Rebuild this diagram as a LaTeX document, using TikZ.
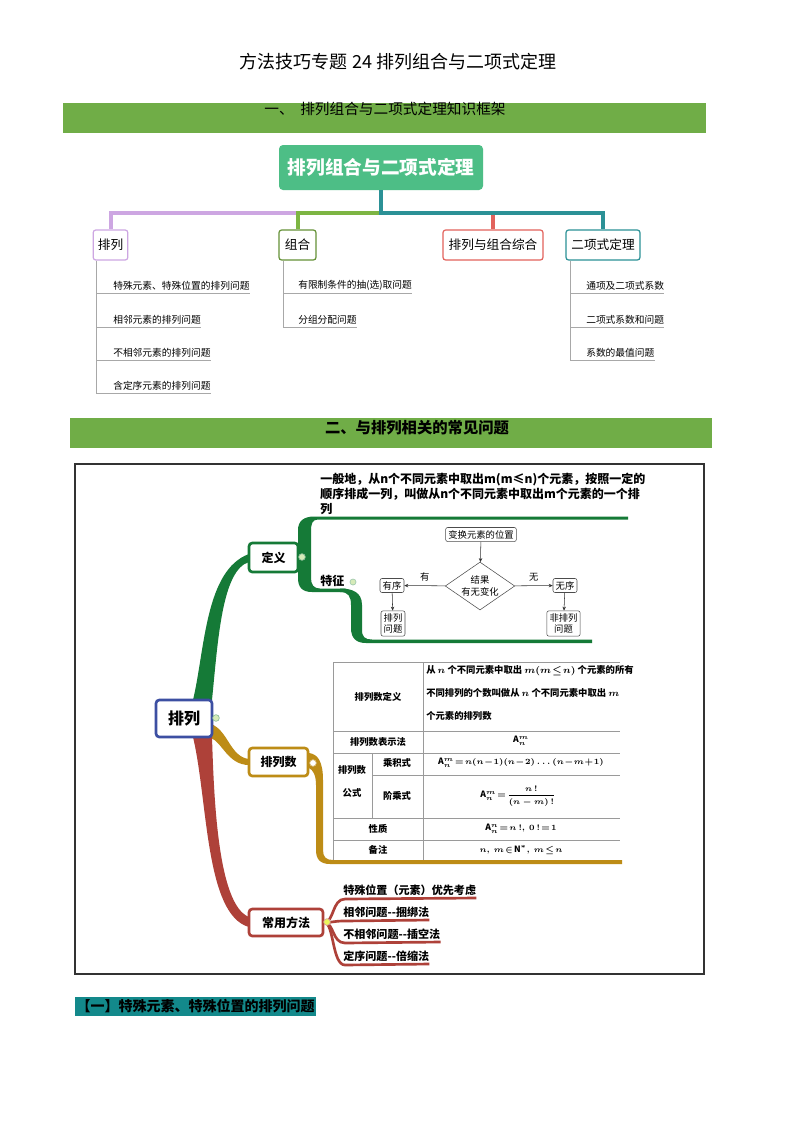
\documentclass[tikz,border=0pt]{standalone}
\usepackage{fontspec}
\setmainfont{Noto Sans CJK SC}
\usetikzlibrary{arrows.meta,positioning,calc,shapes.geometric}
\usepackage{amsmath}
\usepackage{xcolor}
\definecolor{Banner}{HTML}{70AD47}
\definecolor{RootGreen}{HTML}{4DBE86}
\definecolor{Lilac}{HTML}{CDA6E2}
\definecolor{Olive}{HTML}{7DB543}
\definecolor{Coral}{HTML}{E2625C}
\definecolor{Teal}{HTML}{2B9196}
\definecolor{Twig}{HTML}{A8A8A8}
\definecolor{Forest}{HTML}{157A37}
\definecolor{Ochre}{HTML}{BD8C16}
\definecolor{Brick}{HTML}{AE4139}
\definecolor{Indigo}{HTML}{3C4FA2}
\definecolor{Sea}{HTML}{13898B}
\definecolor{Grid}{HTML}{9A9A9A}
\definecolor{Knob}{HTML}{D6EBB8}
\tikzset{
 root/.style={fill=RootGreen, rounded corners=3pt, text=white, minimum width=153pt, minimum height=33.75pt, font=\bfseries\fontsize{14}{16}\selectfont},
 topic/.style={draw, line width=0.9pt, rounded corners=2pt, fill=white, minimum height=22.5pt, inner xsep=2pt, font=\fontsize{9.5}{11}\selectfont},
 bar/.style={line width=3pt},
 twig/.style={draw=Twig, line width=0.6pt},
 leaf/.style={anchor=south west, inner xsep=0pt, inner ysep=2pt, font=\fontsize{7.3}{9}\selectfont},
 subtopic/.style={draw, line width=2pt, rounded corners=2.5pt, fill=white, font=\bfseries\fontsize{9}{11}\selectfont},
 knob/.style={circle, draw=#1, fill=Knob, line width=0.5pt, inner sep=0pt, minimum size=5pt},
 chart/.style={draw=black!70, rounded corners=1.5pt, fill=white, inner sep=2pt, align=center, font=\fontsize{7}{8.5}\selectfont},
 flow/.style={-{Stealth[length=3pt,width=2.6pt]}, draw=black!80, line width=0.4pt},
 cell/.style={inner sep=0.5pt, font=\bfseries\boldmath\fontsize{7}{9}\selectfont},
 formula/.style={inner sep=0.5pt, font=\bfseries\boldmath\fontsize{6.5}{8}\selectfont},
 method/.style={anchor=south west, inner xsep=0pt, inner ysep=1.5pt, font=\bfseries\fontsize{8.3}{10}\selectfont}
}
\begin{document}
\begin{tikzpicture}[x=0.75pt, y=-0.75pt]
\useasboundingbox[fill=white] (0,0) rectangle (794,1122);
\node[font=\fontsize{13.5}{16}\selectfont] (title) at (398,62) {方法技巧专题 24 排列组合与二项式定理};
% part one: framework
\fill[Banner] (63,103) rectangle (706,133);
\node[font=\fontsize{11}{13}\selectfont] (sec1) at (385,109) {一、\ \ 排列组合与二项式定理知识框架};
\node[root] (root) at (381,167.5) {排列组合与二项式定理};
\node[topic, draw=Lilac, minimum width=26pt] (perm) at (110.5,245) {排列};
\node[topic, draw=Olive!80!black, minimum width=27.75pt] (comb) at (297.5,245) {组合};
\node[topic, draw=Coral, minimum width=75pt] (mix) at (493,245) {排列与组合综合};
\node[topic, draw=Teal, minimum width=55.5pt] (binom) at (603,245) {二项式定理};
\coordinate (bus) at (381,213);
\draw[bar, Coral] (mix.north |- bus) -- (mix.north);
\draw[bar, Lilac] (comb.north |- bus) -| (perm.north);
\draw[bar, Olive] (bus) -| (comb.north);
\draw[bar, Teal] (root.south) -- (bus) -| (binom.north);
% leaves
\coordinate (pstem) at ([xshift=3pt]perm.south west);
\node[leaf] (p1) at (113,293) {特殊元素、特殊位置的排列问题};
\node[leaf] (p2) at (113,327) {相邻元素的排列问题};
\node[leaf] (p3) at (113,360) {不相邻元素的排列问题};
\node[leaf] (p4) at (113,393) {含定序元素的排列问题};
\draw[twig] (pstem) |- (p4.south east);
\draw[twig] (pstem |- p1.south) -- (p1.south east);
\draw[twig] (pstem |- p2.south) -- (p2.south east);
\draw[twig] (pstem |- p3.south) -- (p3.south east);
\coordinate (cstem) at ([xshift=3.5pt]comb.south west);
\node[leaf] (c1) at (298,293) {有限制条件的抽(选)取问题};
\node[leaf] (c2) at (298,327) {分组分配问题};
\draw[twig] (cstem) |- (c2.south east);
\draw[twig] (cstem |- c1.south) -- (c1.south east);
\coordinate (bstem) at ([xshift=3.5pt]binom.south west);
\node[leaf] (b1) at (586,293) {通项及二项式系数};
\node[leaf] (b2) at (586,327) {二项式系数和问题};
\node[leaf] (b3) at (586,360) {系数的最值问题};
\draw[twig] (bstem) |- (b3.south east);
\draw[twig] (bstem |- b1.south) -- (b1.south east);
\draw[twig] (bstem |- b2.south) -- (b2.south east);
% part two: permutations
\fill[Banner] (70,418) rectangle (712,448);
\node[font=\bfseries\fontsize{11.5}{13}\selectfont] (sec2) at (417,428) {二、与排列相关的常见问题};
\draw[line width=0.8pt, black!80] (75,464) rectangle (704,974);
% branches
\fill[Forest] (193,700) .. controls (205,650) and (205,570) .. (249,554) -- (249,562) .. controls (222,570) and (218,640) .. (212,700) -- cycle;
\fill[Ochre] (211,724) .. controls (228,730) and (230,757) .. (249,759) -- (249,765) .. controls (228,765) and (222,742) .. (211,738) -- cycle;
\fill[Brick] (193,737) .. controls (208,800) and (205,915) .. (249,927) -- (249,917) .. controls (218,905) and (214,800) .. (212,737) -- cycle;
\fill[Forest] (298,557) -- (298,530) .. controls (298,521) and (304,516.5) .. (314,516.5) -- (628,516.5) -- (628,519.5) -- (318,519.5) .. controls (312,519.5) and (311,524) .. (311,532) -- (311,578) .. controls (311,585) and (314,588.5) .. (320,588.5) -- (346,588.5) -- (346,592) -- (312,592) .. controls (302,592) and (298,587) .. (298,578) -- cycle;
\fill[Forest] (340,588.5) .. controls (352,588.5) and (362,592) .. (362,605) -- (362,630) .. controls (362,637) and (365,639.5) .. (372,639.5) -- (592,639.5) -- (592,643) -- (366,643) .. controls (356,643) and (351,638) .. (351,628) -- (351,605) .. controls (351,596) and (348,592) .. (340,592) -- cycle;
\fill[Ochre] (309,753) .. controls (318,754) and (323,762) .. (323,780) -- (323,850) .. controls (323,857) and (326,860) .. (333,860) -- (622,860) -- (622,864) -- (330,864) .. controls (320,864) and (316,859) .. (316,850) -- (316,785) .. controls (316,775) and (313,770) .. (309,768) -- cycle;
% topics
\node[subtopic, draw=Indigo, minimum width=42pt, minimum height=27.75pt, font=\bfseries\fontsize{12}{14}\selectfont] (arr) at (184,718.5) {排列};
\node[subtopic, draw=Forest, minimum width=36.75pt, minimum height=21.75pt] (defn) at (273.5,557.5) {定义};
\node[subtopic, draw=Ochre, minimum width=44.25pt, minimum height=21pt] (count) at (278.5,762) {排列数};
\node[subtopic, draw=Brick, minimum width=55.5pt, minimum height=20.25pt] (method) at (286,922.5) {常用方法};
\node[knob=Forest!50] (k0) at (216,718) {};
\node[knob=Forest!50] (k1) at (302,557) {};
\node[knob=Ochre!60, fill=white] (k2) at (313,763) {};
% definition
\node[anchor=north west, inner sep=0pt, align=left, font=\bfseries\fontsize{9}{11.25}\selectfont] (deftxt) at (320,473) {一般地，从n个不同元素中取出m(m≤n)个元素，按照一定的\\顺序排成一列，叫做从n个不同元素中取出m个元素的一个排\\列};
\node[anchor=west, inner sep=0pt, font=\bfseries\fontsize{9}{11}\selectfont] (trait) at (320,581) {特征};
\node[knob=Forest!40, minimum size=4.5pt] (k3) at (353,582) {};
% flowchart
\node[chart] (swap) at (481,534.5) {变换元素的位置};
\node[chart, diamond, rounded corners=0pt, aspect=1.45, inner sep=0.5pt] (result) at (480,586) {结果\\有无变化};
\node[chart] (ord) at (392,585.5) {有序};
\node[chart] (unord) at (565,585.5) {无序};
\node[chart] (permq) at (393,623.5) {排列\\问题};
\node[chart] (nonperm) at (563.5,623.5) {非排列\\问题};
\draw[flow] (swap) -- (result);
\draw[flow] (result) -- node[above, font=\fontsize{7}{8}\selectfont] {有} (ord);
\draw[flow] (result) -- node[above, font=\fontsize{7}{8}\selectfont] {无} (unord);
\draw[flow] (ord) -- (permq);
\draw[flow] (unord) -- (nonperm);
% table
\draw[Grid, line width=0.6pt] (333,662) -- (620,662) (333,731) -- (620,731) (333,753) -- (620,753) (372,775) -- (620,775) (333,818) -- (620,818) (333,840) -- (620,840) (333,662) -- (333,860) (423,662) -- (423,860) (372,753) -- (372,818);
\node[cell] (defhead) at (378,696.5) {排列数定义};
\node[cell, anchor=west, align=left, inner sep=0pt, font=\bfseries\boldmath\fontsize{7}{17.25}\selectfont] (defbody) at (426,693) {从 $n$ 个不同元素中取出 $m(m\!\le\! n)$ 个元素的所有\\不同排列的个数叫做从 $n$ 个不同元素中取出 $m$\\个元素的排列数};
\node[cell] (sym) at (378,742) {排列数表示法};
\node[formula] (symval) at (521,741) {$\mathrm{A}_n^m$};
\node[cell] (fhead) at (352,770) {排列数};
\node[cell] (fhead2) at (352,793) {公式};
\node[cell] (prod) at (397,763) {乘积式};
\node[formula] (prodval) at (521,763) {$\mathrm{A}_n^m\!=\!n(n\!-\!1)(n\!-\!2)\dots(n\!-\!m\!+\!1)$};
\node[cell] (fact) at (397,796) {阶乘式};
\node[formula] (factval) at (518,796) {$\mathrm{A}_n^m\!=\!\dfrac{n\,!}{(n-m)\,!}$};
\node[cell] (prop) at (378,829) {性质};
\node[formula] (propval) at (521,829) {$\mathrm{A}_n^n\!=\!n\,!,\ 0\,!\!=\!1$};
\node[cell] (note) at (378,850) {备注};
\node[formula] (noteval) at (521,850) {$n,\ m\!\in\!\mathrm{N}^*,\ m\!\le\! n$};
% methods
\node[method] (m1) at (343,898) {特殊位置（元素）优先考虑};
\node[method] (m2) at (343,920) {相邻问题-{}-捆绑法};
\node[method] (m3) at (343,942) {不相邻问题-{}-插空法};
\node[method] (m4) at (343,964) {定序问题-{}-倍缩法};
\draw[Brick, line width=2pt] (method.east) .. controls (334,922.5) and (332,899) .. (345,899) -- (m1.south east);
\draw[Brick, line width=2pt] (method.east) .. controls (334,922.5) and (332,921) .. (345,921) -- (m2.south east);
\draw[Brick, line width=2pt] (method.east) .. controls (334,922.5) and (332,943) .. (345,943) -- (m3.south east);
\draw[Brick, line width=2pt] (method.east) .. controls (334,922.5) and (332,965) .. (345,965) -- (m4.south east);
\node[knob=Brick!50, fill=Knob!50!yellow] (k4) at (327,922) {};
% next part
\node[fill=Sea, anchor=west, inner sep=1pt, minimum height=14.25pt, font=\bfseries\fontsize{10.5}{12}\selectfont] (part1) at (75,1006.5) {【一】特殊元素、特殊位置的排列问题};
\end{tikzpicture}
\end{document}
